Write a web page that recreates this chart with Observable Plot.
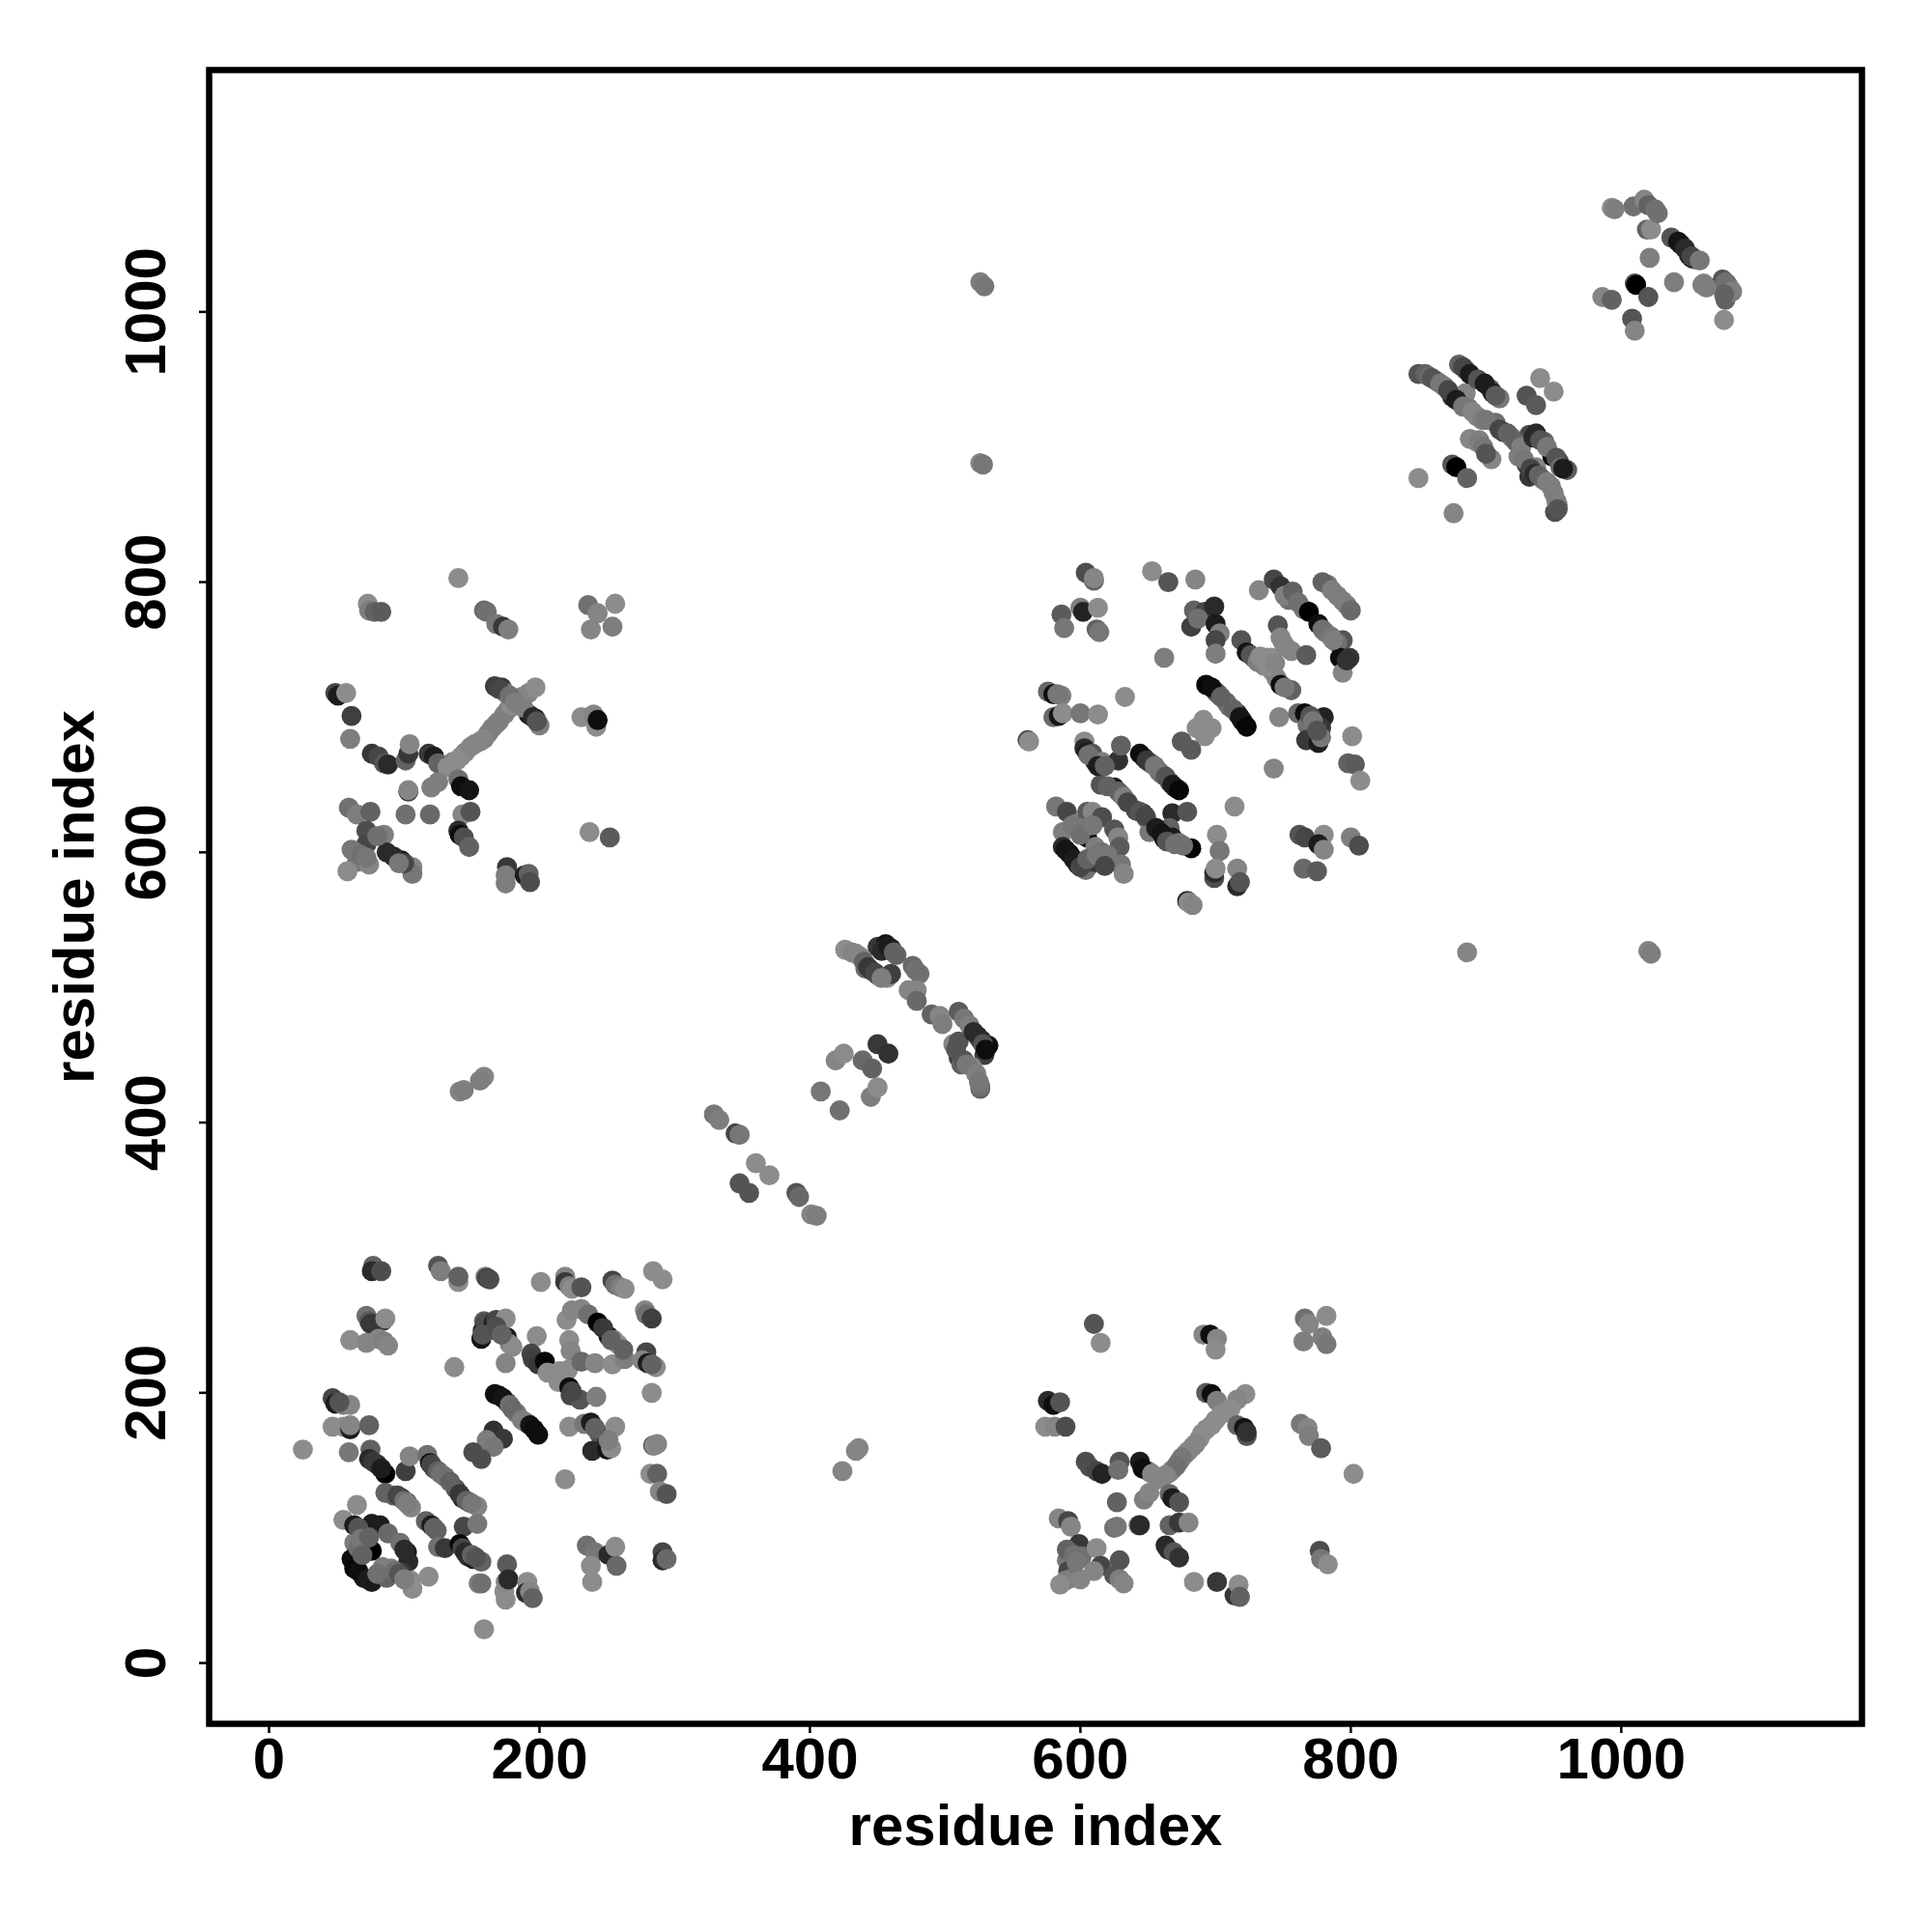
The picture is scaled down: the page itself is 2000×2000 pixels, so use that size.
<!DOCTYPE html>
<html><head><meta charset="utf-8">
<style>html,body{margin:0;padding:0;background:#fff}svg{display:block}</style>
<script src="https://cdn.jsdelivr.net/npm/d3@7"></script>
<script src="https://cdn.jsdelivr.net/npm/@observablehq/plot@0.6"></script>
</head><body><div id="chart"></div>
<script>
// [residue i, residue j, shade]  (0 = darkest, 1 = lightest)
const bandsUnder = [
[707,186,.95],[700,180,1],[693,173,.95],[688,166,.95],[683,160,.9],[678,155,.9],[673,149,.85],[668,143,.9],[666,141,.95],[658,136,.95],[650,142,.9],
[136,667,.95],[139,668,1],[145,674,.95],[152,680,.95],[156,682,.95],[162,688,.9],[165,692,.9],[168,695,.9],[174,702,.95],[177,706,.9],[182,712,.95],[185,712,1],
[754,787,.8],[765,780,.85],[783,798,.85],[790,790,.9],[797,783,.85],
[183,185,.85],[190,178,.7],[176,193,.6],
[700,719,.7],[702,717,.6],[708,711,.7],[710,708,.8],[716,703,.3],[720,697,.1],
[647,670,.3],[652,666,.7],[658,660,.75],[660,658,.8],[666,652,.5],[670,648,.1]
];
const blockLowerLeft = [
[77,294,.7],[76,290,.3],[83,290,.55],[125,294,.6],[127,290,.9],[140,282,1],[140,286,.7],[160,286,.95],[161,285,.5],[163,284,.55],[201,282,1],
[219,286,.95],[219,282,.4],[222,279,.9],[224,277,1],[231,278,.6],[254,283,.5],[256,280,.8],[260,278,.9],[263,277,1],[284,290,1],[291,284,1],
[72,257,.8],[74,253,.65],[75,251,.4],[84,253,.4],[86,255,1],[60,239,1],[72,237,.95],[81,240,.95],[85,238,.9],[88,235,.95],[137,219,1],
[157,240,.15],[159,253,.7],[158,246,.3],[160,252,.55],[166,252,.25],[168,254,.5],[170,245,.3],[176,241,.2],[175,255,1],[178,236,.9],[180,234,1],[175,222,.95],[198,242,1],
[194,229,.5],[195,225,.45],[199,221,.4],[204,223,.05],[206,215,1],[215,216,1],[221,217,1],[214,208,1],[222,204,.1],[223,198,.5],[230,195,.6],[242,197,.9],
[222,239,1],[223,231,.95],[231,223,.75],[241,222,.95],[220,254,1],[224,261,.95],[231,262,.95],[236,258,.8],[243,252,0],[251,242,.1],[254,221,1],[255,239,.9],[258,236,1],[263,225,.9],[262,232,.7],
[278,261,.95],[279,258,.8],[283,255,.45],[279,230,.5],[276,224,.95],[280,222,.2],[286,219,1],[283,200,1],
[167,199,.1],[170,198,.1],[173,196,.15],[178,191,.8],[180,188,.75],[187,180,.9],[193,176,.15],[196,173,.1],[199,169,.1],
[166,172,.35],[173,166,.4],[161,165,.9],[166,160,.85],[151,156,.55],[157,151,.55],[219,136,1],
[222,175,1],[233,177,.85],[238,178,.2],[244,170,.6],[250,163,.2],[256,175,1],[239,157,.3],[250,158,.15],[253,159,1],[251,165,.9],
[284,161,.6],[285,161,1],[287,162,.95],[282,140,1],[287,140,.7],[289,127,.95],[294,125,.6],
[47,196,.5],[49,192,.2],[55,191,.9],[60,191,.95],[47,175,1],[55,175,1],[60,173,.2],[60,176,.95],[74,176,.7],[25,158,1],[59,156,.85],
[75,158,.7],[74,151,.3],[80,147,.3],[86,140,0],[101,142,.45],[104,153,.95],
[117,154,.8],[119,148,.1],[122,144,.6],[130,138,.8],[138,129,.6],[143,122,.2],[148,119,.6],[154,116,.95],
[86,126,.7],[98,122,.2],[102,119,.6],[105,115,.95],[144,101,.5],[154,103,.85],
[116,105,.7],[120,102,.2],[124,98,.7],[125,86,.8],[130,85,.4],[141,88,.05],[147,79,.4],[151,77,.2],[157,75,.7],
[65,117,1],[55,106,1],[63,102,.2],[69,98,.75],[76,103,.2],[82,102,.2],[88,96,.75],[97,89,.8],[102,82,.2],[103,75,.3],
[63,89,.9],[72,88,.9],[76,83,0],[61,77,.1],[63,70,.05],[70,63,.2],[76,60,.2],[84,71,.9],[90,70,.9],[87,63,.7],[99,67,.4],[105,61,1],[106,55,1],[118,64,1],
[155,59,.9],[157,59,.8],[176,73,.65],[174,53,1],[175,47,1],[175,60,.95],[177,62,.3],[191,60,1],[190,52,.3],[193,53,.95],[195,48,.7],[159,25,1],
[235,87,.8],[241,82,.85],[251,80,.3],[256,86,1],[238,72,1],[257,72,.75],[239,60,1],[291,82,.5],[291,76,.3],[294,77,.75]
];
const blockCentre = [
[604,807,.55],[610,801,.7],[610,803,.95],[586,776,.65],[588,766,.85],[600,781,.9],[602,778,.25],[613,781,1],[612,765,.7],[614,763,.85],
[653,808,1],[665,800,.6],[685,802,.95],[682,767,.45],[684,779,.7],[692,778,.5],[687,773,.8],[699,782,.3],[700,769,.2],[703,762,.9],[700,757,.5],[700,747,.9],[662,744,.9],
[732,794,.95],[743,802,.5],[748,797,.35],[751,790,.9],[757,793,.7],[761,785,.8],[769,778,0],[776,769,.1],[781,763,.9],[794,757,.6],[790,755,.8],[792,744,.1],[799,744,.4],[794,733,.95],
[779,800,.7],[786,794,.9],[794,786,.9],[800,779,.75],
[719,757,.6],[723,748,.15],[728,744,1],[738,744,1],[746,768,.6],[748,759,.95],[756,749,.95],[767,746,.65],[736,738,.95],[742,734,1],[745,729,.95],[748,724,.1],[756,720,.7],
[693,724,.05],[697,722,.1],[704,715,.7],[713,706,.7],[718,700,.15],[723,693,.05],[633,715,1],[691,698,1],[686,692,1],[697,692,1],[692,686,1],[675,682,.65],[682,676,.65],
[747,700,.95],[761,703,.75],[766,703,.1],[780,700,.25],[768,694,.8],[778,692,.4],[767,683,.4],[776,681,.2],[778,685,.85],[801,686,1],[798,666,.7],[803,665,.65],[807,653,1],[743,662,.95],
[576,719,.75],[580,717,.1],[586,716,.9],[580,700,.75],[584,701,.15],[587,703,1],[600,703,.85],[613,702,1],[561,683,.5],[562,682,1],
[603,682,1],[603,677,.3],[605,674,.2],[609,673,.6],[611,667,.3],[616,667,.9],[628,668,.35],[630,679,.7],
[644,673,.1],[649,668,.4],[655,664,.85],[663,656,.6],[668,650,.2],[673,646,.05],
[615,650,.6],[625,648,.15],[630,643,.85],[641,631,.55],[646,629,.1],[649,625,.75],[651,615,.85],[668,629,.3],[679,630,.6],
[663,613,.5],[666,618,.7],[662,610,.1],[668,611,.2],[673,607,.85],[682,603,.05],
[701,613,1],[703,601,.85],[699,581,.55],[699,585,.3],[700,588,1],[716,588,.95],[716,575,.3],[718,578,.6],[714,634,1],
[762,613,.6],[766,611,.5],[780,613,1],[776,606,.2],[780,602,.95],[800,611,.9],[806,605,.55],[765,588,.75],[775,586,.65],[679,564,.3],[680,563,1],[683,561,.95],
[582,634,.85],[590,630,.5],[597,621,.9],[605,630,.65],[609,630,.95],[616,626,.55],[625,617,.6],[628,611,.95],[629,604,.65],
[587,615,.9],[600,618,.85],[605,611,0],[587,604,.3],[592,599,.1],[598,591,.25],[606,590,.3],[604,587,.8],[610,593,.4],[611,604,.9],[616,600,.8],[623,593,.5],[630,591,.85],[632,584,.95]
];
const blockLowerRight = [
[610,251,.6],[615,237,1],[691,243,.95],[696,243,.1],[701,240,.95],[700,232,1],
[766,255,.8],[769,251,.95],[765,238,.9],[782,257,1],[779,241,.9],[782,236,.85],
[576,194,.3],[580,191,.1],[585,193,.6],[574,175,1],[581,175,.95],[589,175,.55],
[693,200,.65],[697,199,.1],[701,194,.9],[722,199,1],[716,195,.95],[711,188,1],[704,184,1],[697,176,1],[690,170,1],[685,162,.95],[680,157,.95],[675,152,.85],[671,146,.8],[663,139,.95],
[716,176,.7],[723,168,.6],[721,174,.15],[723,171,.35],[763,177,.85],[768,174,.95],[769,168,.9],[778,159,.65],[802,140,1],
[604,149,.55],[607,145,.55],[612,142,.5],[616,140,.25],[629,149,.6],[628,143,.8],[644,149,.2],[646,144,.1],[653,140,.95],
[647,121,.9],[651,126,.95],[666,125,.75],[668,122,.2],[673,119,.6],[627,119,.7],[625,100,.8],[627,101,.85],[643,102,.9],[644,102,.3],[666,102,.7],[673,104,.4],[680,104,.95],
[663,87,.3],[665,84,.3],[669,82,.6],[673,78,.35],[684,60,1],[701,60,.4],[714,50,.4],[717,58,1],[718,49,.7],[777,83,.55],[778,77,.85],[783,73,1],
[584,107,.95],[591,105,.5],[593,101,.95],[599,88,.4],[601,79,.8],[590,76,.85],[612,85,1],[615,72,.5],[629,76,.6],[591,68,.5],[594,63,.8],[589,61,.9],[585,58,1],[600,62,.95],[625,65,.6],[629,62,.9],[632,59,.95]
];
const blockUpperLeft = [
[73,784,1],[74,779,.9],[78,778,.7],[83,778,.65],[140,803,1],[159,779,.75],[161,778,.8],[168,769,.85],[173,767,.4],[177,765,.9],
[236,783,.8],[243,777,.95],[256,784,1],[238,765,.95],[254,767,.9],
[49,718,.5],[51,716,.2],[57,718,1],[61,701,.45],[60,684,.9],
[76,673,.4],[81,671,.5],[85,666,.6],[88,665,.3],[101,668,.7],[103,673,.4],[104,680,.95],[118,673,.4],[122,671,.2],[125,666,.7],
[167,723,.45],[172,722,.4],[175,718,.9],[192,702,.2],[197,699,.05],[200,694,.9],
[132,663,1],[142,671,1],[149,678,.95],[159,684,.95],[170,697,.9],[179,709,1],[187,715,.95],[192,718,.95],[197,722,1],
[231,700,1],[240,702,.95],[242,693,1],[243,698,.1],[237,615,1],[252,611,.65],
[125,652,.9],[120,648,.9],[140,654,.8],[142,649,.1],[148,646,.15],[103,645,.3],[103,646,.95],[101,628,.8],[119,628,.75],[143,628,.95],[149,630,.6],
[140,616,.3],[141,613,.1],[144,611,.55],[148,604,.7],
[59,633,.8],[65,628,.9],[75,630,.7],[72,616,.55],[85,613,.9],[72,606,.5],[61,602,.85],[87,600,.3],[65,593,.85],[58,586,1],[74,591,.95],[98,594,.2],[106,589,.95],[106,584,.85],
[176,589,.4],[175,583,.9],[175,577,.9],[189,583,.2],[192,584,.7],[193,578,.55]
];
const blockMiddle = [
[426,528,1],[431,526,.95],[437,523,.95],[441,514,.75],[445,513,.5],[450,509,.9],[457,507,1],[460,510,.45],[450,530,.4],[456,532,.15],[460,529,.35],[464,524,.7],
[476,516,.75],[481,510,.8],[473,498,.95],[479,498,.95],[479,490,.75],[490,480,.7],[496,479,.95],[498,473,.9],[510,482,.65],[514,477,.85],
[524,464,.2],[526,461,.55],[532,457,.1],[529,450,.45],[506,458,.95],[510,460,.6],[510,448,.45],[512,443,.7],[520,441,.95],[526,425,.7],[526,427,.8],
[450,458,.4],[458,451,.35],[439,446,.75],[446,440,.7],[419,446,.95],[425,451,1],[445,419,.9],[450,426,1],[408,423,.85],[422,409,.8],
[329,406,.85],[333,402,.9],[345,392,.5],[348,391,.85],[360,370,1],[370,361,1],[348,355,.6],[355,348,.6],[390,348,.6],[392,345,.75],[401,332,.95],[405,331,.9]
];
const blockSecond = [
[850,877,1],[876,851,.95],[875,887,.6],[878,885,0],[886,877,.7],
[850,954,.6],[855,954,.7],[863,949,.85],[869,945,.8],[875,937,.3],[881,934,.5],[885,940,.95],[887,929,.85],[893,923,.95],
[880,961,.7],[885,957,.7],[891,951,.95],[903,943,.6],[910,936,.85],[907,918,.8],[913,911,.4],[919,907,.9],
[888,906,.95],[893,904,.95],[904,891,.95],[940,951,1],[950,941,1],[930,938,.6],[937,931,.65],
[932,909,.5],[937,910,.3],[943,904,.7],[924,893,.9],[930,887,.4],[937,885,.95],[932,878,.4],[942,876,.9],[948,871,.9],[951,852,.55],[953,857,.9],
[949,893,.1],[954,889,.5],[960,883,.65]
];
const blockThird = [
[993,1077,1],[1009,1078,.8],[1017,1083,.95],[1020,1079,.7],[1025,1076,.8],[1019,1061,.7],[1022,1061,1],[1021,1040,.9],
[1037,1055,.6],[1042,1052,.15],[1050,1042,.3],[1054,1039,.7],[1039,1022,.9],[1061,1021,.95],[1063,1019,.95],
[1075,1024,.6],[1077,1009,.7],[1078,1021,.4],[1080,1018,.95],[1076,994,1],[1010,1021,.6],[1011,1020,0],[1020,1011,.6],
[986,1011,.95],[993,1009,.7],[1008,995,.6],[1010,986,.95]
];
const isolated = [
[526,1022,.9],[529,1019,.85],[526,888,.95],[528,887,.85],[886,526,.95],[1020,527,.95],[1022,525,.9],
[141,423,.95],[144,424,.9],[159,434,.95],[156,431,.9],[424,142,.95],[434,157,.95],[436,159,.95]
];
const overLowerLeft = [
[158,243,.6],[168,249,.55],[172,243,.7],[224,201,.5],[247,248,.4],[253,239,.7],[283,221,.7],[241,174,.7],[52,193,.6],[77,149,.4],[83,144,.2],
[120,147,.5],[125,142,.7],[127,140,.8],[134,134,.7],[141,125,.4],[146,120,.7],[150,118,.85],[92,124,.7],[95,124,.5],[100,120,.8],[102,118,.9],
[122,100,.7],[143,85,.5],[145,82,.3],[150,80,.7],[153,78,.6],[66,100,.6],[100,84,.3],[66,68,.1],[73,62,.2],[80,66,.8],[93,68,.8],[96,66,.6],[100,62,.9],
[66,85,.8],[68,92,.85],[69,80,.7],[74,93,.7]
];
const overCentre = [
[606,672,.8],[613,664,.2],[618,664,.7],[620,649,.7],[628,645,.7],[632,641,.9],[635,637,.5],[644,630,.6],[648,627,.5],[656,618,.2],[660,614,.15],[664,608,.6],[670,606,.8],[676,605,.8],
[779,765,.8],[785,760,.85],[787,757,.9],[726,746,.6],[731,741,.9],[733,745,1],[738,738,1],[741,744,1],[750,755,.95],[752,752,.95],[744,740,.95],[751,722,.85],[797,742,.35],
[770,701,.6],[772,697,.85],[775,690,.6],[583,717,.85],[589,602,.15],[595,595,.2],[600,589,.5],[605,595,.7],[612,598,.85],[620,598,.85],[618,590,.5],[594,620,.85],[600,613,.8],[609,620,.85]
];
const overOthers = [
[590,84,.7],[595,80,.8],[597,75,.85],[610,68,.95],
[64,600,.85],[68,598,.8],[72,596,.85],[80,612,.8],[92,597,.3],[100,592,.5],[96,592,.85],
[170,721,.5],[178,716,.8],[182,711,.9],[188,707,.9],[195,700,.3],[198,697,.6],
[434,525,.95],[440,519,.7],[443,515,.4],[448,511,.5],[453,527,.3],[458,530,.2],[462,526,.7],[453,507,.9],[478,513,.8],[518,472,.9],[521,467,.3],[527,461,.3],[528,458,.6],[530,454,.1],[508,454,.6],[514,446,.6],[516,443,.85],[523,436,.9],[525,430,.85],
[858,952,.75],[860,951,.6],[866,947,.85],[872,942,.5],[878,935,.2],[883,930,.85],[890,926,.95],[897,920,.9],[900,920,.85],[910,913,.5],[916,910,.7],[922,904,.7],[926,900,.9],[928,891,.85],[933,884,.5],[936,880,.3],[939,879,.7],[945,874,.9],[950,866,.9],[952,860,.9],[953,854,.6],
[883,959,.5],[888,954,.2],[894,950,.6],[899,947,.2],[905,940,.2],[907,938,.65],[935,907,.3],[940,905,.6],[945,900,.85],[952,892,.6],[955,885,.75],[957,884,.2],[895,905,.9],[898,900,.85],[900,895,.6],
[995,1076,.9],[1027,1073,.8],[1044,1050,.15],[1047,1047,.3],[1052,1040,.2],[1052,1041,.5],[1058,1038,.85],[1077,1022,.8],[1082,1015,.9],[1076,1013,.7],[1060,1020,.9],[1063,1018,.9]
];
const tickValues = [0, 200, 400, 600, 800, 1000];
const axisTitle = "residue index";

const contacts = [...bandsUnder, ...blockLowerLeft, ...blockCentre, ...blockLowerRight, ...blockUpperLeft, ...blockMiddle, ...blockSecond, ...blockThird, ...isolated, ...overLowerLeft, ...overCentre, ...overOthers];

const chart = Plot.plot({
  width: 2000, height: 2000,
  marginLeft: 216, marginRight: 73, marginTop: 72, marginBottom: 216,
  style: {fontFamily: "'Liberation Sans', Arial, sans-serif", fontWeight: "bold", fontSize: "60px", background: "#fff", color: "#000"},
  x: {domain: [-44.3, 1178]},
  y: {domain: [-45, 1179]},
  color: {type: "linear", domain: [0, 1], range: ["#000000", "#8c8c8c"]},
  marks: [
    Plot.dot(contacts, {x: d => d[0], y: d => d[1], fill: d => d[2], r: 10.4, stroke: "none"}),
    Plot.frame({stroke: "#000", strokeWidth: 6.5}),
    Plot.axisX({ticks: tickValues, tickFormat: "d", tickSize: 10, tickPadding: 4, strokeWidth: 2.5, fontSize: 60, fontWeight: "bold",
      label: axisTitle, labelAnchor: "center", labelArrow: "none", labelOffset: 125}),
    Plot.axisY({ticks: tickValues, tickFormat: "d", tickSize: 10, tickPadding: 36, strokeWidth: 2.5, fontSize: 60, fontWeight: "bold", tickRotate: -90,
      label: axisTitle, labelAnchor: "center", labelArrow: "none", labelOffset: 162})
  ]
});
document.getElementById("chart").append(chart);
</script></body></html>
